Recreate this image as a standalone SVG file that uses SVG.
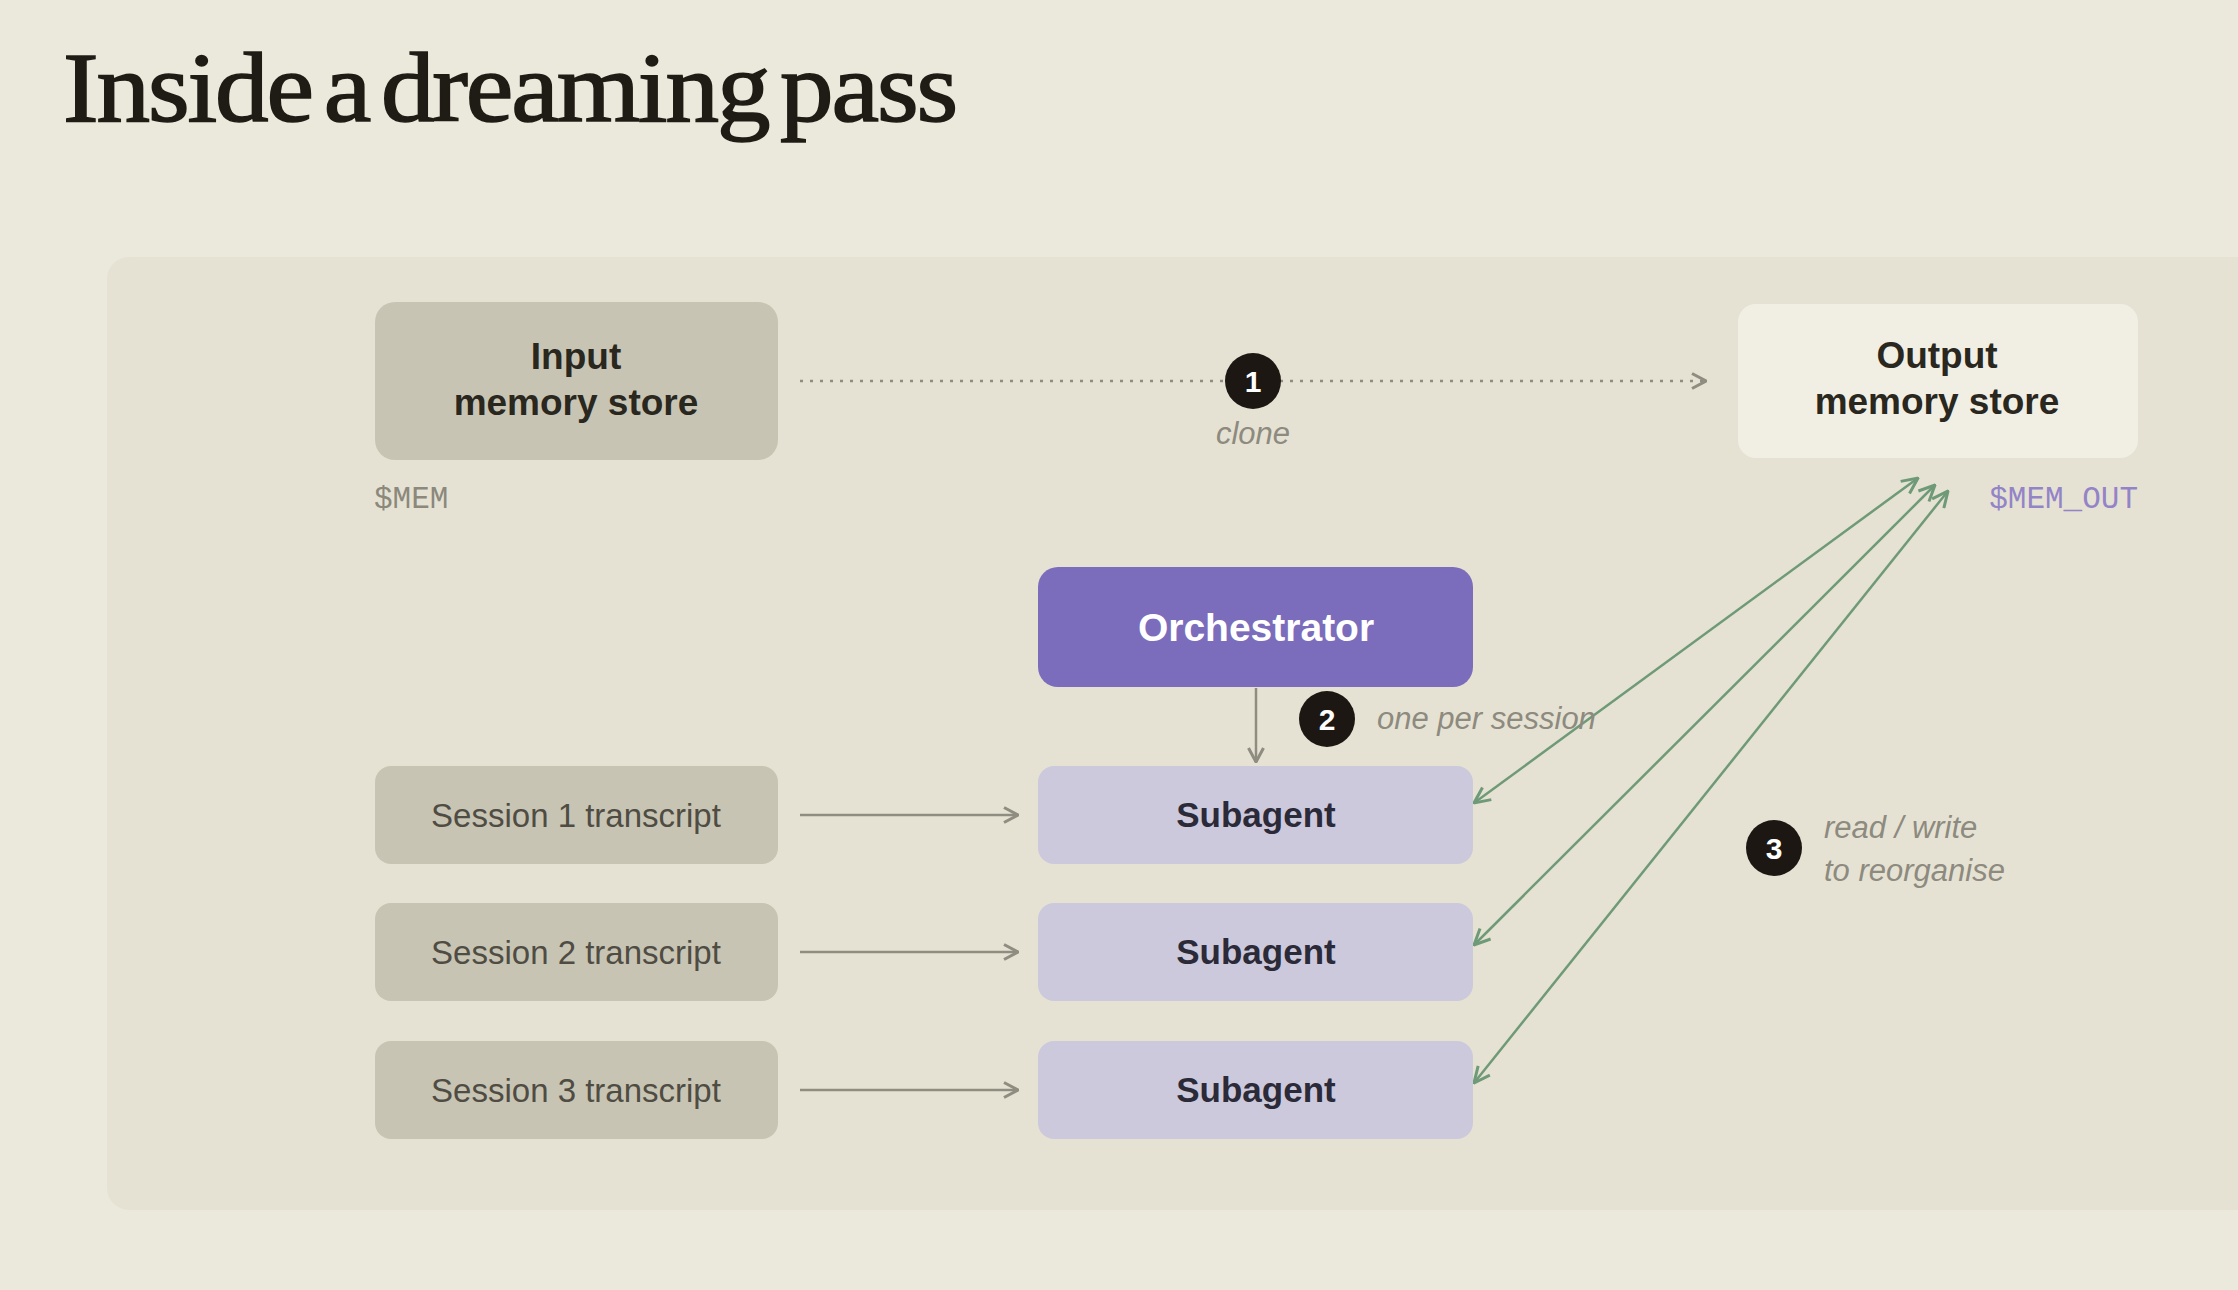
<svg xmlns="http://www.w3.org/2000/svg" width="2238" height="1290" viewBox="0 0 2238 1290">
<style>
.lbl{font-family:"Liberation Sans",Arial,sans-serif;text-anchor:middle}
.b{font-weight:bold}
.note{font-family:"Liberation Sans",Arial,sans-serif;font-style:italic;fill:#8d8a7f;font-size:31px}
.num{font-family:"Liberation Sans",Arial,sans-serif;font-weight:bold;fill:#ffffff;font-size:30px;text-anchor:middle}
.badge{fill:#1c1712}
.grey{fill:#c8c4b4}
.sub{fill:#cdc9dc}
.conn{fill:none;stroke:#8f8c80;stroke-width:2.5}
.green{fill:none;stroke:#6f9a78;stroke-width:2.5}
.mono{font-family:"Liberation Mono","DejaVu Sans Mono",monospace;font-size:31px}
</style>
<defs>
<marker id="ah" viewBox="0 0 16 18" refX="15" refY="9" markerWidth="16" markerHeight="18" markerUnits="userSpaceOnUse" orient="auto-start-reverse">
<path d="M1,1.5 L15,9 L1,16.5" fill="none" stroke="#8f8c80" stroke-width="3"/>
</marker>
<marker id="ag" viewBox="0 0 18 18" refX="17" refY="9" markerWidth="18" markerHeight="18" markerUnits="userSpaceOnUse" orient="auto-start-reverse">
<path d="M1,1.5 L17,9 L1,16.5" fill="none" stroke="#6f9a78" stroke-width="3"/>
</marker>
</defs>
<rect width="2238" height="1290" fill="#ebe8dc"/>
<rect x="107" y="257" width="2160" height="953" rx="22" fill="#e6e2d3"/>
<text x="63" y="121" font-family="'Liberation Serif','Times New Roman',serif" font-size="100" fill="#1f1c16" stroke="#1f1c16" stroke-width="1.6" letter-spacing="-2" word-spacing="-12" textLength="893" lengthAdjust="spacingAndGlyphs">Inside a dreaming pass</text>

<g id="connectors">
<line class="conn" x1="800" y1="381" x2="1706" y2="381" stroke-dasharray="3 7" stroke="#a7a394" stroke-width="3" marker-end="url(#ah)"/>
<line class="conn" x1="1256" y1="688" x2="1256" y2="762" marker-end="url(#ah)"/>
<line class="conn" x1="800" y1="815" x2="1018" y2="815" marker-end="url(#ah)"/>
<line class="conn" x1="800" y1="952" x2="1018" y2="952" marker-end="url(#ah)"/>
<line class="conn" x1="800" y1="1090" x2="1018" y2="1090" marker-end="url(#ah)"/>
<line class="green" x1="1474" y1="803" x2="1918" y2="478" marker-start="url(#ag)" marker-end="url(#ag)"/>
<line class="green" x1="1474" y1="945" x2="1935" y2="485" marker-start="url(#ag)" marker-end="url(#ag)"/>
<line class="green" x1="1474" y1="1083" x2="1948" y2="491" marker-start="url(#ag)" marker-end="url(#ag)"/>
</g>

<g id="input-store">
<rect class="grey" x="375" y="302" width="403" height="158" rx="20"/>
<text class="lbl b" x="576" y="369" font-size="37" fill="#2a271f">Input</text>
<text class="lbl b" x="576" y="415" font-size="37" fill="#2a271f">memory store</text>
<text class="mono" x="374" y="508" fill="#8b887c">$MEM</text>
</g>

<g id="output-store">
<rect x="1738" y="304" width="400" height="154" rx="18" fill="#f1efe4"/>
<text class="lbl b" x="1937" y="368" font-size="37" fill="#2a271f">Output</text>
<text class="lbl b" x="1937" y="414" font-size="37" fill="#2a271f">memory store</text>
<text class="mono" x="2138" y="508" fill="#9384c8" text-anchor="end">$MEM_OUT</text>
</g>

<g id="badge-1">
<circle class="badge" cx="1253" cy="381" r="28"/>
<text class="num" x="1253" y="392">1</text>
<text class="note" x="1253" y="444" text-anchor="middle">clone</text>
</g>

<g id="orchestrator">
<rect x="1038" y="567" width="435" height="120" rx="20" fill="#7b6cbc"/>
<text class="lbl b" x="1256" y="641" font-size="39" fill="#ffffff">Orchestrator</text>
</g>

<g id="badge-2">
<circle class="badge" cx="1327" cy="719" r="28"/>
<text class="num" x="1327" y="730">2</text>
<text class="note" x="1377" y="729">one per session</text>
</g>

<g id="session-1">
<rect class="grey" x="375" y="766" width="403" height="98" rx="16"/>
<text class="lbl" x="576" y="827" font-size="33" fill="#4f4c43">Session 1 transcript</text>
</g>
<g id="session-2">
<rect class="grey" x="375" y="903" width="403" height="98" rx="16"/>
<text class="lbl" x="576" y="964" font-size="33" fill="#4f4c43">Session 2 transcript</text>
</g>
<g id="session-3">
<rect class="grey" x="375" y="1041" width="403" height="98" rx="16"/>
<text class="lbl" x="576" y="1102" font-size="33" fill="#4f4c43">Session 3 transcript</text>
</g>

<g id="subagent-1">
<rect class="sub" x="1038" y="766" width="435" height="98" rx="16"/>
<text class="lbl b" x="1256" y="827" font-size="35" fill="#2b2a38">Subagent</text>
</g>
<g id="subagent-2">
<rect class="sub" x="1038" y="903" width="435" height="98" rx="16"/>
<text class="lbl b" x="1256" y="964" font-size="35" fill="#2b2a38">Subagent</text>
</g>
<g id="subagent-3">
<rect class="sub" x="1038" y="1041" width="435" height="98" rx="16"/>
<text class="lbl b" x="1256" y="1102" font-size="35" fill="#2b2a38">Subagent</text>
</g>

<g id="badge-3">
<circle class="badge" cx="1774" cy="848" r="28"/>
<text class="num" x="1774" y="859">3</text>
<text class="note" x="1824" y="838">read / write</text>
<text class="note" x="1824" y="881">to reorganise</text>
</g>
</svg>
